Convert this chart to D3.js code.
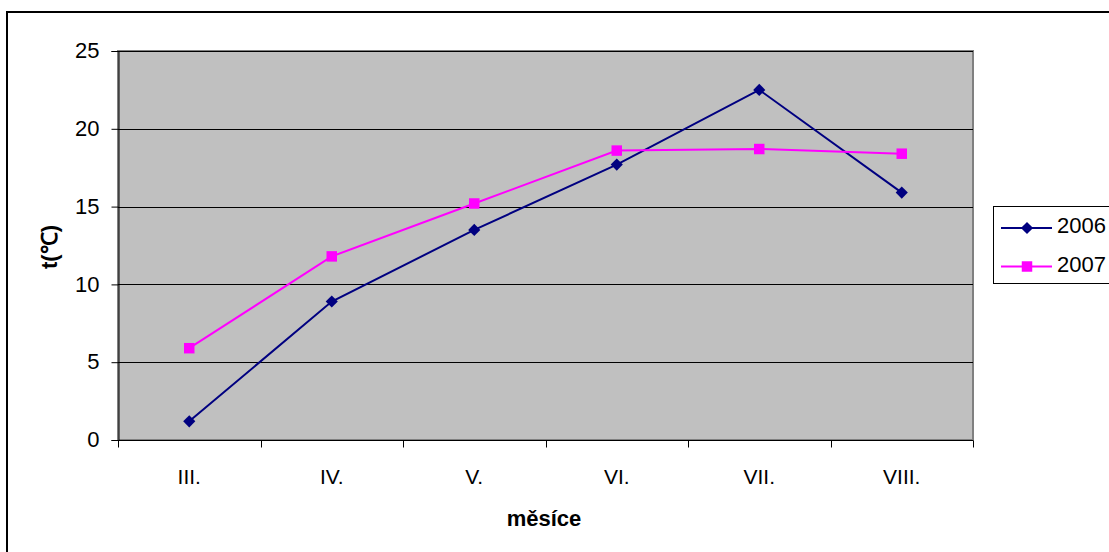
<!DOCTYPE html>
<html>
<head>
<meta charset="utf-8">
<script src="https://cdn.jsdelivr.net/npm/d3@7"></script>
<style>
  body { margin: 0; background: #fff; }
  text { font-family: "Liberation Sans", Arial, sans-serif; }
</style>
</head>
<body>
<svg id="chart" width="1109" height="552"></svg>
<script>
// Monthly mean temperatures, March–August
const months = ["III.", "IV.", "V.", "VI.", "VII.", "VIII."];
const temps2006 = [1.2, 8.9, 13.5, 17.7, 22.5, 15.9];
const temps2007 = [5.9, 11.8, 15.2, 18.6, 18.7, 18.4];
const yTicks = [0, 5, 10, 15, 20, 25];
const seriesNames = ["2006", "2007"];

const FONT = "'Liberation Sans', Arial, sans-serif";
const svg = d3.select("#chart");

// Outer chart frame
svg.append("rect")
  .attr("x", 7).attr("y", 12)
  .attr("width", 1120).attr("height", 560)
  .attr("fill", "#fff").attr("stroke", "#000").attr("stroke-width", 2);

const plot = { left: 118, top: 51, right: 973, bottom: 440 };

const x = d3.scaleBand().domain(months).range([plot.left, plot.right]);
const y = d3.scaleLinear().domain([0, 25]).range([plot.bottom, plot.top]);

// Plot background
svg.append("rect")
  .attr("x", plot.left).attr("y", plot.top)
  .attr("width", plot.right - plot.left).attr("height", plot.bottom - plot.top)
  .attr("fill", "#c0c0c0").attr("stroke", "#808080").attr("stroke-width", 2);

// Horizontal gridlines
svg.append("g").selectAll("line")
  .data(yTicks.filter(t => t > 0))
  .join("line")
  .attr("x1", plot.left).attr("x2", plot.right)
  .attr("y1", d => Math.round(y(d)) + 0.5).attr("y2", d => Math.round(y(d)) + 0.5)
  .attr("stroke", "#000").attr("stroke-width", 1);

// Y axis
const yAxis = svg.append("g")
  .attr("transform", `translate(${plot.left + 0.5},0)`)
  .call(d3.axisLeft(y).tickValues(yTicks).tickSize(7).tickPadding(12));
yAxis.select(".domain").attr("stroke", "#000");
yAxis.selectAll(".tick line").attr("stroke", "#000");
yAxis.selectAll("text")
  .attr("font-size", 22).attr("fill", "#000").attr("dy", "0.3em")
  .style("font-family", FONT);

// X axis: ticks between categories
const xAxis = svg.append("g")
  .attr("transform", `translate(0,${plot.bottom + 0.5})`);
xAxis.append("line")
  .attr("x1", plot.left).attr("x2", plot.right)
  .attr("stroke", "#000");
const boundaries = months.map(m => x(m)).concat([x(months[months.length - 1]) + x.bandwidth()]);
xAxis.selectAll("line.tick")
  .data(boundaries)
  .join("line").attr("class", "tick")
  .attr("x1", d => Math.round(d) + 0.5).attr("x2", d => Math.round(d) + 0.5)
  .attr("y1", 0).attr("y2", 7)
  .attr("stroke", "#000");
xAxis.selectAll("text")
  .data(months)
  .join("text")
  .attr("x", d => x(d) + x.bandwidth() / 2)
  .attr("y", 43)
  .attr("text-anchor", "middle")
  .attr("font-size", 21)
  .text(d => d);

// Axis titles
svg.append("text")
  .attr("x", 544).attr("y", 526)
  .attr("text-anchor", "middle")
  .attr("font-size", 22).attr("font-weight", "bold")
  .text("měsíce");
svg.append("text")
  .attr("transform", "translate(57,247) rotate(-90)")
  .attr("text-anchor", "middle")
  .attr("font-size", 22).attr("font-weight", "bold")
  .text("t(℃)");

// Series
const series = [
  { name: seriesNames[0], values: temps2006, color: "#000080", symbol: d3.symbolSquare, size: 74, rotate: 45 },
  { name: seriesNames[1], values: temps2007, color: "#ff00ff", symbol: d3.symbolSquare, size: 110, rotate: 0 }
];

const line = d3.line()
  .x((d, i) => x(months[i]) + x.bandwidth() / 2)
  .y(d => y(d));

series.forEach(s => {
  svg.append("path")
    .datum(s.values)
    .attr("d", line)
    .attr("fill", "none")
    .attr("stroke", s.color).attr("stroke-width", 2);
  svg.append("g").selectAll("path")
    .data(s.values)
    .join("path")
    .attr("transform", (d, i) => `translate(${x(months[i]) + x.bandwidth() / 2},${y(d)}) rotate(${s.rotate})`)
    .attr("d", d3.symbol().type(s.symbol).size(s.size))
    .attr("fill", s.color);
});

// Legend
const legend = svg.append("g");
legend.append("rect")
  .attr("x", 993.5).attr("y", 206.5)
  .attr("width", 130).attr("height", 77)
  .attr("fill", "#fff").attr("stroke", "#000");
series.forEach((s, i) => {
  const ly = 228 + i * 38.5;
  legend.append("line")
    .attr("x1", 1001).attr("x2", 1052)
    .attr("y1", ly).attr("y2", ly)
    .attr("stroke", s.color).attr("stroke-width", 2);
  legend.append("path")
    .attr("transform", `translate(1027,${ly}) rotate(${s.rotate})`)
    .attr("d", d3.symbol().type(s.symbol).size(s.size))
    .attr("fill", s.color);
  legend.append("text")
    .attr("x", 1057).attr("y", ly + 5)
    .attr("font-size", 22)
    .text(s.name);
});
</script>
</body>
</html>
